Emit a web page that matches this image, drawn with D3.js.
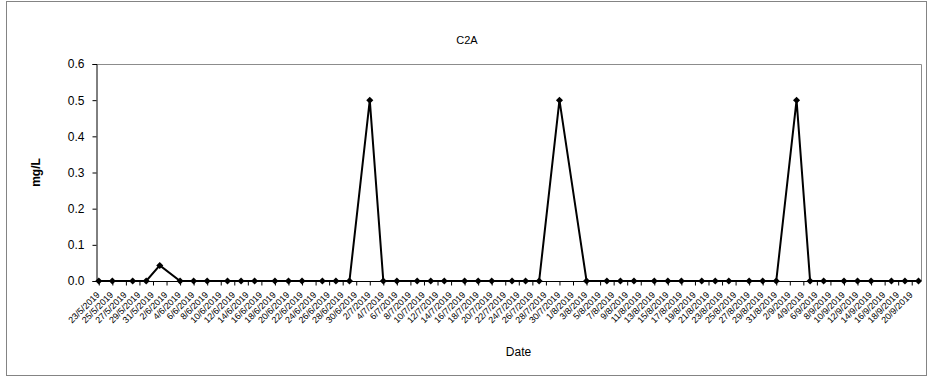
<!DOCTYPE html>
<html><head><meta charset="utf-8">
<script src="https://cdn.jsdelivr.net/npm/d3@7/dist/d3.min.js"></script>
<style>body{margin:0;background:#fff}svg{display:block;font-family:"Liberation Sans",Arial,sans-serif}</style>
</head><body>
<svg id="c" width="933" height="379"></svg>
<script>
const title = "C2A";
const xTitle = "Date";
const yTitle = "mg/L";
const dates = ["23/5/2019","25/5/2019","28/5/2019","30/5/2019","1/6/2019","4/6/2019","6/6/2019","8/6/2019","11/6/2019","13/6/2019","15/6/2019","18/6/2019","20/6/2019","22/6/2019","25/6/2019","27/6/2019","29/6/2019","2/7/2019","4/7/2019","6/7/2019","9/7/2019","11/7/2019","13/7/2019","16/7/2019","18/7/2019","20/7/2019","23/7/2019","25/7/2019","27/7/2019","30/7/2019","3/8/2019","6/8/2019","8/8/2019","10/8/2019","13/8/2019","15/8/2019","17/8/2019","20/8/2019","22/8/2019","24/8/2019","27/8/2019","29/8/2019","31/8/2019","3/9/2019","5/9/2019","7/9/2019","10/9/2019","12/9/2019","14/9/2019","17/9/2019","19/9/2019","21/9/2019"];
const values = [0,0,0,0,0.043,0,0,0,0,0,0,0,0,0,0,0,0,0.5,0,0,0,0,0,0,0,0,0,0,0,0.5,0,0,0,0,0,0,0,0,0,0,0,0,0,0.5,0,0,0,0,0,0,0,0];
const xTickLabels = ["23/5/2019","25/5/2019","27/5/2019","29/5/2019","31/5/2019","2/6/2019","4/6/2019","6/6/2019","8/6/2019","10/6/2019","12/6/2019","14/6/2019","16/6/2019","18/6/2019","20/6/2019","22/6/2019","24/6/2019","26/6/2019","28/6/2019","30/6/2019","2/7/2019","4/7/2019","6/7/2019","8/7/2019","10/7/2019","12/7/2019","14/7/2019","16/7/2019","18/7/2019","20/7/2019","22/7/2019","24/7/2019","26/7/2019","28/7/2019","30/7/2019","1/8/2019","3/8/2019","5/8/2019","7/8/2019","9/8/2019","11/8/2019","13/8/2019","15/8/2019","17/8/2019","19/8/2019","21/8/2019","23/8/2019","25/8/2019","27/8/2019","29/8/2019","31/8/2019","2/9/2019","4/9/2019","6/9/2019","8/9/2019","10/9/2019","12/9/2019","14/9/2019","16/9/2019","18/9/2019","20/9/2019"];
const yTicks = [0,0.1,0.2,0.3,0.4,0.5,0.6];

const parse = d3.timeParse("%d/%m/%Y");
const data = dates.map((d,i)=>({date:parse(d), v:values[i]}));
const svg = d3.select("#c");
const L=96, R=921, T=64, B=281;

svg.append("rect").attr("x",6.5).attr("y",1.5).attr("width",920).attr("height",374)
  .attr("fill","#fff").attr("stroke","#848484").attr("stroke-width",1);

const x = d3.scaleTime().domain([parse("23/5/2019"), parse("21/9/2019")]).range([98.8, 918.5]);
const y = d3.scaleLinear().domain([0,0.6]).range([B,T]);

// plot area border (top/right gray)
svg.append("path").attr("d",`M${L},${T+0.5}H${R+0.5}V${B}`).attr("fill","none").attr("stroke","#8c8c8c").attr("stroke-width",1);

// y axis
const ya = svg.append("g").attr("transform",`translate(${L+0.5},0)`)
  .call(d3.axisLeft(y).tickValues(yTicks).tickFormat(d3.format(".1f")).tickSizeOuter(0).tickSize(4).tickPadding(8));
ya.selectAll("text").attr("font-size",12).attr("fill","#000").attr("font-family","Liberation Sans, Arial, sans-serif");
ya.selectAll("line,path").attr("stroke","#000");

// x axis
const xa = svg.append("g").attr("transform",`translate(0,${B+0.5})`)
  .call(d3.axisBottom(x).tickValues(xTickLabels.map(parse)).tickFormat(d3.timeFormat("%-d/%-m/%Y")).tickSizeOuter(0).tickSize(4));
xa.select(".domain").attr("d",`M${L},0H${R}`).attr("stroke","#000");
xa.selectAll(".tick line").attr("stroke","#000");
xa.selectAll(".tick text").attr("font-size",9).attr("fill","#000")
  .attr("font-family","Liberation Sans, Arial, sans-serif")
  .attr("text-anchor","end").attr("dy",null).attr("y",null)
  .attr("transform","translate(1,14) rotate(-45)");

// line
svg.append("path").datum(data)
  .attr("d",d3.line().x(d=>x(d.date)).y(d=>y(d.v)))
  .attr("fill","none").attr("stroke","#000").attr("stroke-width",2).attr("stroke-linejoin","miter");

svg.append("g").selectAll("path").data(data).join("path")
  .attr("d",d3.symbol(d3.symbolSquare,25))
  .attr("transform",d=>`translate(${x(d.date)},${y(d.v)}) rotate(45)`)
  .attr("fill","#000");

svg.append("text").attr("x",467).attr("y",44).attr("text-anchor","middle").attr("font-size",11).text(title);
svg.append("text").attr("x",(L+R)/2+10).attr("y",356).attr("text-anchor","middle").attr("font-size",12).text(xTitle);
svg.append("text").attr("transform",`translate(40,${(T+B)/2}) rotate(-90)`).attr("text-anchor","middle")
  .attr("font-size",12).attr("font-weight","bold").text(yTitle);
</script>
</body></html>
